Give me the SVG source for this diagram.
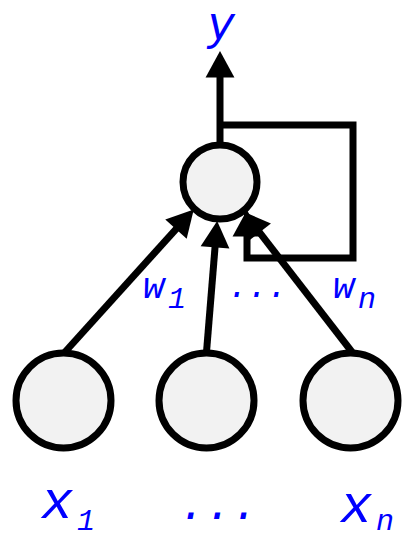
<svg xmlns="http://www.w3.org/2000/svg" width="403" height="539" viewBox="0 0 403 539">
<style>
.edge{fill:none;stroke:#000;stroke-width:7;stroke-linejoin:miter}
.node{fill:#f2f2f2;stroke:#000;stroke-width:7}
.lbl{font-family:"Liberation Mono","DejaVu Sans Mono",monospace;font-style:italic;fill:#0000ff}
</style>
<defs>
<marker id="ah" markerUnits="userSpaceOnUse" markerWidth="30" markerHeight="30" viewBox="0 -13 24 26" refX="3" refY="0" orient="auto">
<path d="M0,-12.5 L23,0 L0,12.5 z" fill="#000"/>
</marker>
</defs>
<g id="connectors">
<path class="edge" d="M220,145 V74" marker-end="url(#ah)"/>
<path class="edge" d="M220,125 H353 V258 H247 V233" marker-end="url(#ah)"/>
<path class="edge" d="M65,352 L178.3,226.6" marker-end="url(#ah)"/>
<path class="edge" d="M206.5,352 L215.3,244" marker-end="url(#ah)"/>
<path class="edge" d="M352,352 L257.4,229.7" marker-end="url(#ah)"/>
</g>
<g id="node-out"><circle class="node" cx="220" cy="182" r="37"/></g>
<g id="node-x1"><circle class="node" cx="63.5" cy="400.5" r="47.5"/></g>
<g id="node-x2"><circle class="node" cx="206.5" cy="400.5" r="47.5"/></g>
<g id="node-xn"><circle class="node" cx="350.5" cy="400.5" r="47.5"/></g>
<g id="labels">
<text class="lbl" x="207" y="39" font-size="46">y</text>
<text class="lbl" x="143" y="298" font-size="36">w</text>
<text class="lbl" x="168" y="308" font-size="30">1</text>
<text class="lbl" x="228" y="297" font-size="33">...</text>
<text class="lbl" x="333" y="298" font-size="36">w</text>
<text class="lbl" x="358" y="308" font-size="30">n</text>
<text class="lbl" x="41" y="518" font-size="54">x</text>
<text class="lbl" x="77" y="530" font-size="30">1</text>
<text class="lbl" x="179" y="519" font-size="44">...</text>
<text class="lbl" x="340" y="522" font-size="54">x</text>
<text class="lbl" x="376" y="530" font-size="30">n</text>
</g>
</svg>
